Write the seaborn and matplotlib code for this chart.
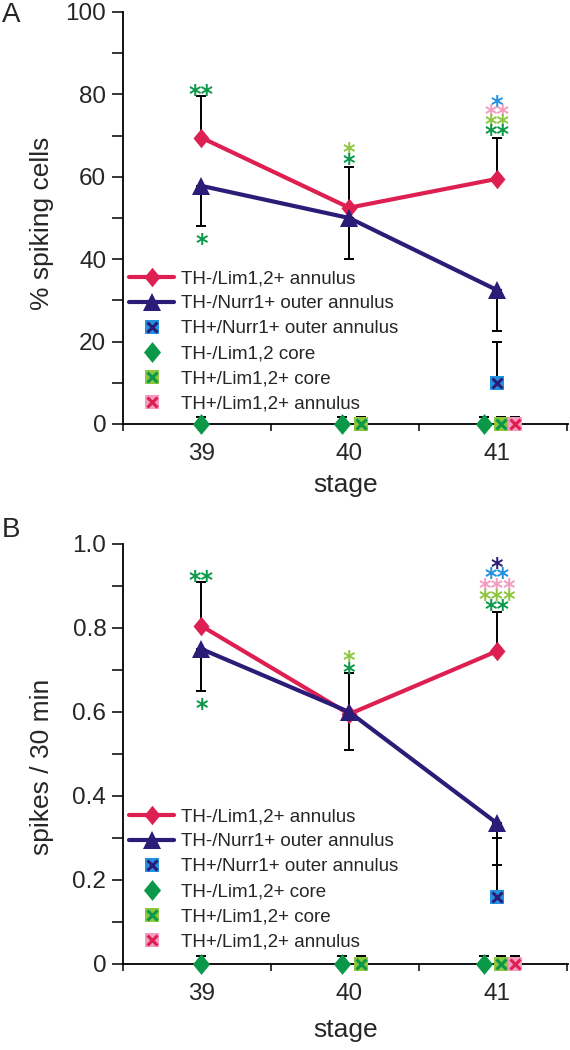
import matplotlib
matplotlib.use('Agg')
import matplotlib.pyplot as plt
import seaborn as sns
from matplotlib.lines import Line2D
from matplotlib.legend_handler import HandlerTuple
from matplotlib.ticker import MultipleLocator, FixedLocator, FuncFormatter

# DADOS
estagios = [39, 40, 41]
estagios_th_core = [40, 41]
estagios_41 = [41]

# painel A - % spiking cells
a_anel = [69.5, 52.5, 59.5]
a_anel_err = [10.0, 9.8, 10.0]
a_nurr = [57.8, 50.0, 32.5]
a_nurr_err = [9.8, 10.0, 9.9]
a_th_nurr = [10.0]
a_th_nurr_err = [10.0]
a_core = [0, 0, 0]
a_th_core = [0, 0]
a_th_anel = [0]
a_zero_err = 1.7

# painel B - spikes / 30 min
b_anel = [0.805, 0.595, 0.745]
b_anel_err = [0.105, 0.098, 0.093]
b_nurr = [0.75, 0.60, 0.335]
b_nurr_err = [0.10, 0.09, 0.10]
b_th_nurr = [0.16]
b_th_nurr_err = [0.14]
b_core = [0, 0, 0]
b_th_core = [0, 0]
b_th_anel = [0]
b_zero_err = 0.02

rotulos_a = ['TH-/Lim1,2+ annulus', 'TH-/Nurr1+ outer annulus', 'TH+/Nurr1+ outer annulus',
             'TH-/Lim1,2 core', 'TH+/Lim1,2+ core', 'TH+/Lim1,2+ annulus']
rotulos_b = ['TH-/Lim1,2+ annulus', 'TH-/Nurr1+ outer annulus', 'TH+/Nurr1+ outer annulus',
             'TH-/Lim1,2+ core', 'TH+/Lim1,2+ core', 'TH+/Lim1,2+ annulus']

# CORES
VERMELHO = '#DE1F52'
AZUL_ESC = '#2B1C78'
AZUL_CLARO = '#2291E0'
VERDE = '#0B9848'
LIMA = '#8DC63F'
ROSA = '#F39BC0'

# asteriscos de significancia: (estagio, y, texto, cor)
estrelas_a = [(39, 81.6, '**', VERDE), (39, 45.4, '*', VERDE),
              (40, 67.5, '*', LIMA), (40, 64.8, '*', VERDE),
              (41, 79.0, '*', AZUL_CLARO), (41, 76.8, '**', ROSA),
              (41, 74.4, '**', LIMA), (41, 71.8, '**', VERDE)]
estrelas_b = [(39, 0.93, '**', VERDE), (39, 0.624, '*', VERDE),
              (40, 0.738, '*', LIMA), (40, 0.71, '*', VERDE),
              (41, 0.96, '*', AZUL_ESC), (41, 0.936, '**', AZUL_CLARO),
              (41, 0.91, '***', ROSA), (41, 0.884, '***', LIMA),
              (41, 0.86, '**', VERDE)]

# deslocamento horizontal dos pontos (dodge) por estagio
DESLOC_CORE = {39: 0.0, 40: -0.05, 41: -0.09}
DESLOC_TH_CORE = {40: 0.08, 41: 0.03}
DESLOC_TH_ANEL = {41: 0.12}

LOSANGO = [(0, 1), (0.82, 0), (0, -1), (-0.82, 0), (0, 1)]

sns.set_style('ticks')
plt.rcParams['font.family'] = ['Liberation Sans', 'DejaVu Sans']


def desloca(xs, desl):
    return [x + desl.get(x, 0) for x in xs]


def quadrado_x(ax, xs, ys, cor, cor_x):
    ax.plot(xs, ys, ls='none', marker='s', ms=9.5, mfc=cor, mec=cor, mew=0,
            zorder=5, clip_on=False)
    ax.plot(xs, ys, ls='none', marker='x', ms=6.5, mec=cor_x, mew=2.2,
            zorder=6, clip_on=False)


def erro(ax, xs, ys, baixo, cima):
    ax.errorbar(xs, ys, yerr=[baixo, cima], fmt='none', ecolor='black',
                elinewidth=1.4, capsize=3.6, capthick=1.4, zorder=3, clip_on=False)


def painel(ax, anel, anel_err, nurr, nurr_err, th_nurr, th_nurr_err, core, th_core,
           th_anel, zero_err, estrelas, rotulos, ymax, maior, menor, ylabel, fmt,
           ylab_y, xlab_y, leg_y):
    # barras de erro (unilaterais)
    erro(ax, estagios, anel, [0] * 3, anel_err)
    erro(ax, estagios, nurr, nurr_err, [0] * 3)
    erro(ax, estagios_41, th_nurr, [0], th_nurr_err)
    erro(ax, desloca(estagios, DESLOC_CORE), core, [0] * 3, [zero_err] * 3)
    erro(ax, desloca(estagios_th_core, DESLOC_TH_CORE), th_core, [0] * 2, [zero_err] * 2)
    erro(ax, desloca(estagios_41, DESLOC_TH_ANEL), th_anel, [0], [zero_err])

    sns.lineplot(x=estagios, y=anel, color=VERMELHO, lw=3, marker=LOSANGO, ms=14,
                 mew=0, ax=ax, zorder=4, legend=False)
    sns.lineplot(x=estagios, y=nurr, color=AZUL_ESC, lw=3, marker='^', ms=13,
                 mew=0, ax=ax, zorder=4, legend=False)
    for ln in ax.lines[-2:]:
        ln.set_clip_on(False)

    quadrado_x(ax, estagios_41, th_nurr, AZUL_CLARO, AZUL_ESC)
    ax.plot(desloca(estagios, DESLOC_CORE), core, ls='none', marker=LOSANGO, ms=15,
            mfc=VERDE, mec=VERDE, mew=0, zorder=5, clip_on=False)
    quadrado_x(ax, desloca(estagios_th_core, DESLOC_TH_CORE), th_core, LIMA, VERDE)
    quadrado_x(ax, desloca(estagios_41, DESLOC_TH_ANEL), th_anel, ROSA, VERMELHO)

    fs = 17
    for x, y, txt, cor in estrelas:
        ax.annotate(txt, (x, y), xytext=(0, -0.6 * fs), textcoords='offset points',
                    ha='center', va='baseline', color=cor, fontsize=fs,
                    family='DejaVu Sans', weight='bold', annotation_clip=False)

    # eixos
    ax.set_xlim(38.47, 41.48)
    ax.set_ylim(0, ymax)
    ax.set_xticks(estagios)
    ax.set_xticklabels([str(e) for e in estagios])
    ax.xaxis.set_minor_locator(FixedLocator([38.47, 39.47, 40.47, 41.47]))
    ax.yaxis.set_major_locator(MultipleLocator(maior))
    ax.yaxis.set_minor_locator(MultipleLocator(menor))
    ax.yaxis.set_major_formatter(FuncFormatter(fmt))
    ax.tick_params(axis='x', which='major', length=0, pad=14, labelsize=17.5)
    ax.tick_params(axis='x', which='minor', length=5, width=1.3)
    ax.tick_params(axis='y', which='both', length=8, width=1.3, labelsize=17.5, pad=4)
    sns.despine(ax=ax)
    for s in ['left', 'bottom']:
        ax.spines[s].set_linewidth(1.3)
        ax.spines[s].set_color('black')
    ax.set_xlabel('stage', fontsize=19)
    ax.xaxis.set_label_coords(0.5, xlab_y)
    ax.set_ylabel(ylabel, fontsize=19)
    ax.yaxis.set_label_coords(-0.155, ylab_y)

    # legenda
    h_anel = Line2D([], [], color=VERMELHO, lw=3, marker=LOSANGO, ms=14, mew=0)
    h_nurr = Line2D([], [], color=AZUL_ESC, lw=3, marker='^', ms=13, mew=0)
    h_core = Line2D([], [], ls='none', color=VERDE, marker=LOSANGO, ms=15, mew=0)

    def hq(cor, cor_x):
        return (Line2D([], [], ls='none', marker='s', ms=9.5, mfc=cor, mew=0),
                Line2D([], [], ls='none', marker='x', ms=6.5, mec=cor_x, mew=2.2))

    handles = [h_anel, h_nurr, hq(AZUL_CLARO, AZUL_ESC), h_core,
               hq(LIMA, VERDE), hq(ROSA, VERMELHO)]
    ax.legend(handles, rotulos, loc='upper left', frameon=False, fontsize=13.5,
              bbox_to_anchor=(129 / 570, leg_y), bbox_transform=ax.figure.transFigure,
              borderpad=0, borderaxespad=0, handlelength=2.4, handletextpad=0.35,
              labelspacing=0.42, handler_map={tuple: HandlerTuple(ndivide=1, pad=0)})


fig = plt.figure(figsize=(5.7, 10.5), dpi=100)
ax_a = fig.add_axes([123 / 570, 1 - 424 / 1050, 445 / 570, 412 / 1050])
ax_b = fig.add_axes([123 / 570, 1 - 964 / 1050, 445 / 570, 420 / 1050])

painel(ax_a, a_anel, a_anel_err, a_nurr, a_nurr_err, a_th_nurr, a_th_nurr_err,
       a_core, a_th_core, a_th_anel, a_zero_err, estrelas_a, rotulos_a,
       100, 20, 10, '% spiking cells', lambda v, p: f'{v:.0f}', 0.488, -0.118,
       1 - 270 / 1050)
painel(ax_b, b_anel, b_anel_err, b_nurr, b_nurr_err, b_th_nurr, b_th_nurr_err,
       b_core, b_th_core, b_th_anel, b_zero_err, estrelas_b, rotulos_b,
       1.0, 0.2, 0.1, 'spikes / 30 min', lambda v, p: '0' if v == 0 else f'{v:.1f}',
       0.469, -0.128, 1 - 808 / 1050)

fig.text(2 / 570, 1 - 15 / 1050, 'A', fontsize=20, ha='left', va='center')
fig.text(2 / 570, 1 - 530 / 1050, 'B', fontsize=20, ha='left', va='center')

plt.savefig('out.png', dpi=100)
